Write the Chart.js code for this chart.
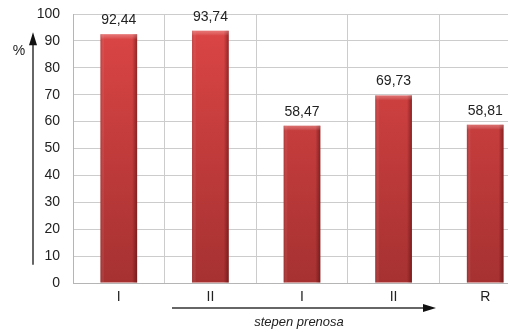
<!DOCTYPE html>
<html>
<head>
<meta charset="utf-8">
<script src="https://cdn.jsdelivr.net/npm/chart.js@4"></script>
<style>
  html, body { margin: 0; padding: 0; background: #fff; overflow: hidden; }
  #wrap { width: 540px; height: 332px; }
</style>
</head>
<body>
<div id="wrap"><canvas id="chart" width="540" height="332"></canvas></div>
<script>
  // stopnje prenosa in deleži (%)
  var categories = ['I', 'II', 'I', 'II', 'R'];
  var values = [92.44, 93.74, 58.47, 69.73, 58.81];
  var yTicks = [0, 10, 20, 30, 40, 50, 60, 70, 80, 90, 100];

  var FONT = "'Liberation Sans', Arial, sans-serif";

  function fmt(v) { return v.toFixed(2).replace('.', ','); }

  function barFill(ctx) {
    var area = ctx.chart.chartArea;
    if (!area) return '#c83c3c';
    var g = ctx.chart.ctx.createLinearGradient(0, area.top, 0, area.bottom);
    g.addColorStop(0, '#de4646');
    g.addColorStop(1, '#a63131');
    return g;
  }

  /* value labels and bevel shading on each bar */
  var barDecor = {
    id: 'barDecor',
    afterDatasetsDraw: function (chart) {
      var c = chart.ctx;
      var meta = chart.getDatasetMeta(0);
      c.save();
      meta.data.forEach(function (bar, i) {
        var x0 = bar.x - bar.width / 2, x1 = bar.x + bar.width / 2;
        var top = bar.y, bottom = bar.base;
        // dark right edge
        var gr = c.createLinearGradient(x1 - 5, 0, x1, 0);
        gr.addColorStop(0, 'rgba(60,0,0,0)');
        gr.addColorStop(1, 'rgba(60,0,0,0.45)');
        c.fillStyle = gr;
        c.fillRect(x1 - 5, top, 5, bottom - top);
        // soft left edge
        var gl = c.createLinearGradient(x0, 0, x0 + 4, 0);
        gl.addColorStop(0, 'rgba(120,20,20,0.3)');
        gl.addColorStop(1, 'rgba(255,255,255,0)');
        c.fillStyle = gl;
        c.fillRect(x0, top, 4, bottom - top);
        // top bevel
        var gt = c.createLinearGradient(0, top, 0, top + 5);
        gt.addColorStop(0, 'rgba(255,200,200,0.35)');
        gt.addColorStop(1, 'rgba(255,255,255,0)');
        c.fillStyle = gt;
        c.fillRect(x0, top, bar.width, 5);
        // value
        c.fillStyle = '#222';
        c.font = '14px ' + FONT;
        c.textAlign = 'center';
        c.textBaseline = 'bottom';
        c.fillText(fmt(values[i]), bar.x, top - 7);
      });
      c.restore();
    }
  };

  /* axis arrows, unit and axis caption */
  var axisArrows = {
    id: 'axisArrows',
    afterDraw: function (chart) {
      var c = chart.ctx;
      var y = chart.scales.y;
      var a = chart.chartArea;
      c.save();
      c.strokeStyle = '#333';
      c.fillStyle = '#111';
      c.lineWidth = 1.5;

      // vertical arrow
      var ax = 33, yLow = y.getPixelForValue(6.8), yTip = y.getPixelForValue(93.2);
      c.beginPath();
      c.moveTo(ax, yLow);
      c.lineTo(ax, yTip + 10);
      c.stroke();
      c.beginPath();
      c.moveTo(ax, yTip);
      c.lineTo(ax - 4, yTip + 13);
      c.lineTo(ax + 4, yTip + 13);
      c.closePath();
      c.fill();

      // horizontal arrow
      var hy = a.bottom + 25, hx0 = a.left + 99, hx1 = a.left + 363;
      c.beginPath();
      c.moveTo(hx0, hy);
      c.lineTo(hx1 - 10, hy);
      c.stroke();
      c.beginPath();
      c.moveTo(hx1, hy);
      c.lineTo(hx1 - 13, hy - 4);
      c.lineTo(hx1 - 13, hy + 4);
      c.closePath();
      c.fill();

      c.fillStyle = '#222';
      c.textAlign = 'center';
      c.textBaseline = 'middle';
      c.font = '14px ' + FONT;
      c.fillText('%', 19, 51);
      c.font = 'italic 13px ' + FONT;
      c.fillText('stepen prenosa', 299, a.bottom + 39);
      c.restore();
    }
  };

  new Chart(document.getElementById('chart').getContext('2d'), {
    type: 'bar',
    data: {
      labels: categories,
      datasets: [{
        data: values,
        backgroundColor: barFill,
        borderWidth: 0,
        barPercentage: 0.4,
        categoryPercentage: 1
      }]
    },
    options: {
      responsive: false,
      animation: false,
      layout: { padding: { top: 14, right: 9, left: 0, bottom: 0 } },
      plugins: { legend: { display: false }, tooltip: { enabled: false } },
      scales: {
        x: {
          grid: { color: '#cccccc', drawTicks: false, offset: true },
          border: { color: '#b5b5b5' },
          ticks: { color: '#222', padding: 6, font: { family: FONT, size: 14 } },
          afterFit: function (s) { s.height = 49; s.paddingLeft = 0; s.paddingRight = 0; }
        },
        y: {
          min: 0,
          max: 100,
          afterBuildTicks: function (s) { s.ticks = yTicks.map(function (v) { return { value: v }; }); },
          grid: { color: '#cccccc', drawTicks: false },
          border: { color: '#b5b5b5' },
          ticks: { color: '#222', padding: 13, font: { family: FONT, size: 14 } },
          afterFit: function (s) { s.width = 73; s.paddingTop = 0; s.paddingBottom = 0; }
        }
      }
    },
    plugins: [barDecor, axisArrows]
  });
</script>
</body>
</html>
